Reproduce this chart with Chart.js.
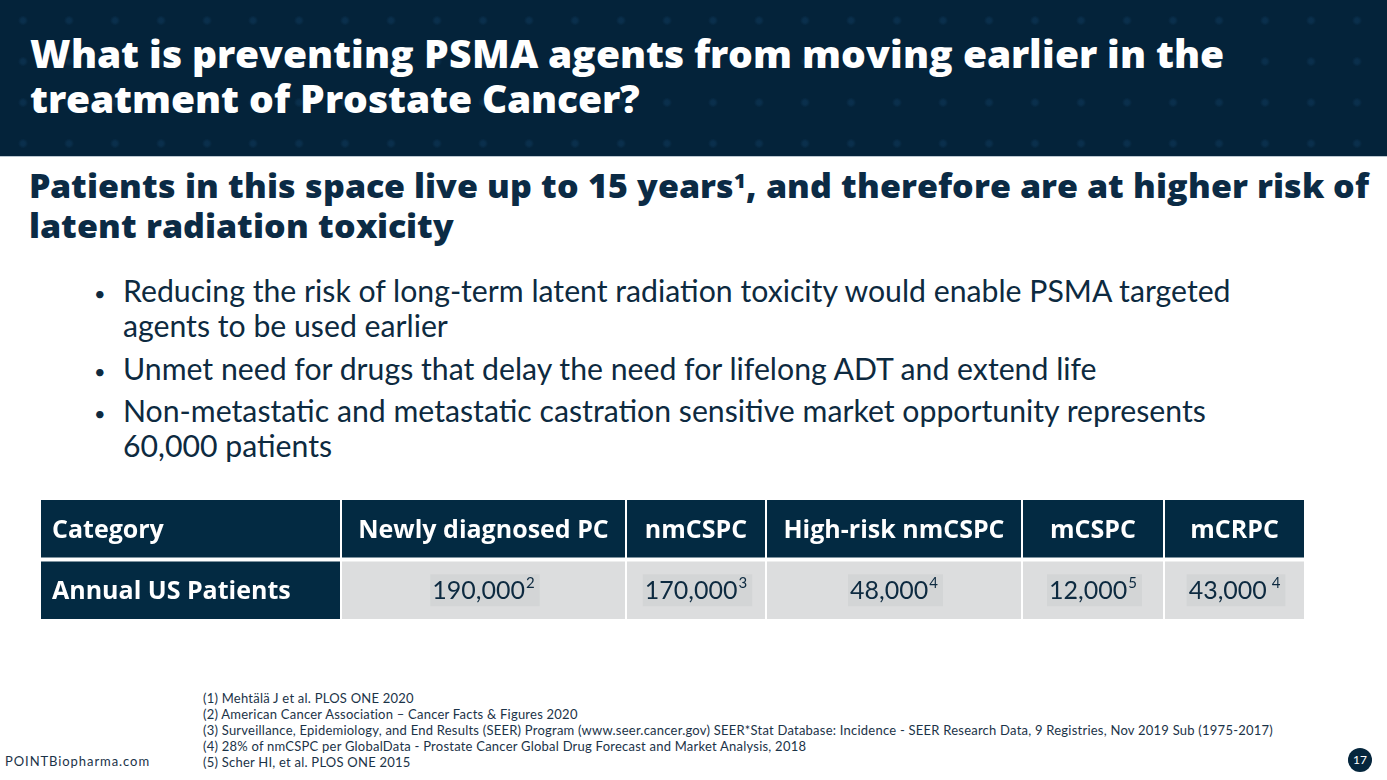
<!DOCTYPE html>
<html><head><meta charset="utf-8">
<script src="https://cdn.jsdelivr.net/npm/chart.js@4.4.1/dist/chart.umd.min.js"></script>
<style>
@font-face{font-family:"TitleFace";src:local("Open Sans ExtraBold"),local("OpenSans-ExtraBold"),local("Open Sans Extra Bold"),local("Open Sans Extrabold");font-weight:800;ascent-override:100%;descent-override:25%;line-gap-override:0%;}
@font-face{font-family:"TitleFace";src:local("Open Sans Bold"),local("OpenSans-Bold");font-weight:700;ascent-override:100%;descent-override:25%;line-gap-override:0%;}
html,body{margin:0;padding:0;}
body{width:1387px;height:780px;position:relative;overflow:hidden;background:#fff;font-family:Lato,"Noto Sans",sans-serif;}
#band{position:absolute;left:0;top:0;width:1387px;height:156px;background-color:#04233a;
 background-image:radial-gradient(circle, rgba(18,62,98,0.45) 2px, rgba(18,62,98,0) 5px);
 background-size:46px 41px;border-bottom:1px solid #b9c6d0;}
.t{position:absolute;white-space:nowrap;width:max-content;}
.h{font-family:"TitleFace","Open Sans",Lato,sans-serif;}
.t sup{font-size:0.6em;position:relative;top:-0.5em;line-height:0;vertical-align:baseline;letter-spacing:0;}
#tbl{position:absolute;left:40px;top:498px;}
#pg{position:absolute;left:1348px;top:748px;width:24px;height:24px;border-radius:50%;background:#05263d;color:#fff;font:400 12px Lato,sans-serif;line-height:24px;text-align:center;}
</style></head>
<body>
<div id="band"></div>
<canvas id="tbl" width="1265" height="123"></canvas>
<div id="pg">17</div>
<script>
// ---- text content ----
const titleLines = ["What is preventing PSMA agents from moving earlier in the", "treatment of Prostate Cancer?"];
const subtitleLines = ["Patients in this space live up to 15 years<sup>1</sup>, and therefore are at higher risk of", "latent radiation toxicity"];
const bulletLines = [
  ["Reducing the risk of long-term latent radiation toxicity would enable PSMA targeted", "agents to be used earlier"],
  ["Unmet need for drugs that delay the need for lifelong ADT and extend life"],
  ["Non-metastatic and metastatic castration sensitive market opportunity represents", "60,000 patients"]
];
const footnotes = [
  "(1) Mehtälä J et al. PLOS ONE 2020",
  "(2) American Cancer Association – Cancer Facts & Figures 2020",
  "(3) Surveillance, Epidemiology, and End Results (SEER) Program (www.seer.cancer.gov) SEER*Stat Database: Incidence - SEER Research Data, 9 Registries, Nov 2019 Sub (1975-2017)",
  "(4) 28% of nmCSPC per GlobalData - Prostate Cancer Global Drug Forecast and Market Analysis, 2018",
  "(5) Scher HI, et al. PLOS ONE 2015"
];
const footerText = "POINTBiopharma.com";

// ---- table data ----
const categories = ["Category", "Newly diagnosed PC", "nmCSPC", "High-risk nmCSPC", "mCSPC", "mCRPC"];
const rowLabel = "Annual US Patients";
const patients = [190000, 170000, 48000, 12000, 43000];
const refs = ["2", "3", "4", "5", " 4"];

// ---- layout (not data) ----
const colW = [301, 285, 140, 256, 142, 141];
const NAVY = '#032a42', GRAY = '#dcddde', HILITE = '#d3d5d6', INK = '#0d2a40';
const HEAD_FONT = 'bold 25px "Open Sans", Lato, sans-serif';
const VAL_FONT = '400 25px Lato, sans-serif';
const SUP_FONT = '400 15px Lato, sans-serif';

function addBlock(lines, x, cy, fs, lh, weight, color, cls){
  const d = document.createElement('div');
  d.className = 't' + (cls ? ' ' + cls : '');
  d.innerHTML = lines.map(s => '<span>' + s + '</span>').join('<br>');
  d.style.left = x + 'px';
  d.style.fontSize = fs + 'px';
  d.style.lineHeight = lh + 'px';
  d.style.fontWeight = weight;
  d.style.color = color;
  document.body.appendChild(d);
  const b = {d, cy, fs, lh};
  place(b);
  return b;
}
function place(b){ b.d.style.top = (b.cy - b.lh / 2 - 0.025 * b.fs) + 'px'; }
function lineWidth(b, idx){
  const sp = b.d.querySelectorAll(':scope > span')[idx || 0];
  return sp.getBoundingClientRect().width;
}
function fitSize(blocks, targetW){
  for (let k = 0; k < 3; k++) {
    const w = lineWidth(blocks[0], 0);
    const fs = blocks[0].fs * targetW / w;
    blocks.forEach(b => { b.fs = fs; b.d.style.fontSize = fs + 'px'; place(b); });
  }
}
function fitSpacing(blocks, idx, textLen, targetW){
  blocks.forEach(b => { b.d.style.letterSpacing = '0px'; });
  const w = lineWidth(blocks[0], idx);
  const ls = (targetW - w) / textLen;
  blocks.forEach(b => { b.d.style.letterSpacing = ls + 'px'; });
}

let fits = [];
function buildText(){
  const title = [addBlock(titleLines, 30, 54, 36, 45, 800, '#ffffff', 'h')];
  const sub = [addBlock(subtitleLines, 29, 186, 32, 40, 800, '#0b2b45', 'h')];
  const cys = [291, 369, 411];
  const bl = bulletLines.map((b, i) => addBlock(b, 123, cys[i], 28, 35, 400, INK));
  bulletLines.forEach((b, i) => addBlock(['•'], 94, cys[i] + 2, 20, 20, 400, INK));
  const esc = s => s.replace(/&/g, '&amp;');
  const fn = [addBlock(footnotes.map(esc), 203, 698, 13, 16, 400, '#1b3348')];
  const ft = [addBlock([footerText], 5, 761, 13, 16, 400, '#1b3348')];
  fits = [
    () => fitSize(title, 1182),
    () => fitSize(sub, 1314),
    () => fitSize(bl, 1108),
    () => fitSpacing(fn, 2, footnotes[2].length, 1070),
    () => fitSpacing(ft, 0, footerText.length, 145)
  ];
  fits.forEach(f => f());
}

function buildTable(){
  const edges = [0];
  colW.forEach(w => edges.push(edges[edges.length - 1] + w));
  const datasets = categories.map((c, i) => ({
    label: c,
    data: [[edges[i], edges[i + 1]], [edges[i], edges[i + 1]]],
    backgroundColor: [NAVY, i === 0 ? NAVY : GRAY],
    borderColor: '#ffffff',
    borderWidth: {top: 2, bottom: 2, left: 1, right: 1},
    borderSkipped: false,
    inflateAmount: 0,
    categoryPercentage: 1,
    barPercentage: 1,
    grouped: false
  }));
  const textPlugin = {
    id: 'tableText',
    afterDatasetsDraw(chart){
      const ctx = chart.ctx;
      ctx.save();
      chart.data.datasets.forEach((ds, i) => {
        const meta = chart.getDatasetMeta(i);
        meta.data.forEach((el, r) => {
          const p = el.getProps(['x', 'y', 'base'], true);
          const l = Math.min(p.x, p.base), rr = Math.max(p.x, p.base), cx = (l + rr) / 2, y = p.y;
          ctx.textBaseline = 'middle';
          if (r === 0 || i === 0) {
            const txt = r === 0 ? categories[i] : rowLabel;
            ctx.font = HEAD_FONT;
            ctx.fillStyle = '#ffffff';
            if (i === 0) { ctx.textAlign = 'left'; ctx.fillText(txt, l + 12, y + 2); }
            else { ctx.textAlign = 'center'; ctx.fillText(txt, cx, y + 2); }
          } else {
            const num = patients[i - 1].toLocaleString('en-US');
            const ref = refs[i - 1];
            ctx.font = VAL_FONT;
            const w1 = ctx.measureText(num).width;
            ctx.font = SUP_FONT;
            const w2 = ctx.measureText(ref).width;
            const tot = w1 + w2 + 1;
            const sx = cx - tot / 2;
            ctx.fillStyle = HILITE;
            ctx.fillRect(sx - 2, y - 16, tot + 7, 32);
            ctx.fillStyle = INK;
            ctx.textAlign = 'left';
            ctx.font = VAL_FONT;
            ctx.fillText(num, sx, y + 1);
            ctx.font = SUP_FONT;
            ctx.fillText(ref, sx + w1 + 1, y - 7);
          }
        });
      });
      ctx.restore();
    }
  };
  new Chart(document.getElementById('tbl'), {
    type: 'bar',
    data: {labels: ['header', 'values'], datasets},
    options: {
      indexAxis: 'y',
      responsive: false,
      animation: false,
      devicePixelRatio: 1,
      layout: {padding: 0},
      scales: {
        x: {type: 'linear', min: 0, max: edges[edges.length - 1], display: false},
        y: {type: 'category', display: false}
      },
      plugins: {legend: {display: false}, tooltip: {enabled: false}}
    },
    plugins: [textPlugin]
  });
}

Promise.all([
  document.fonts.load('800 36px "TitleFace"'), document.fonts.load('800 36px "Open Sans"'),
  document.fonts.load('bold 25px "Open Sans"'), document.fonts.load('400 25px Lato')
]).catch(()=>{}).then(() => {
  buildText();
  buildTable();
  return document.fonts.ready;
}).then(() => {
  fits.forEach(f => f());
});
</script>
</body></html>
